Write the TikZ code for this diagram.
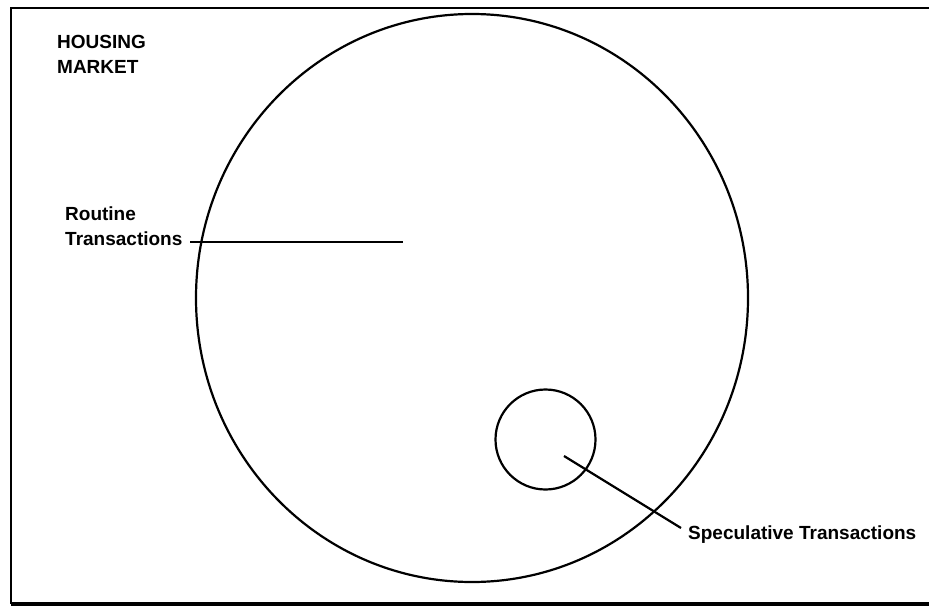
\documentclass[tikz,border=0pt]{standalone}
\usepackage{fontspec}
\setmainfont{Liberation Sans}
\begin{document}
\begin{tikzpicture}[x=1pt, y=-1pt,
  lbl/.style={inner sep=0pt, align=left, font=\bfseries\fontsize{19}{25}\selectfont},
  ring/.style={draw, line width=2.2pt},
  lead/.style={line width=2.2pt}
]
\useasboundingbox (0,0) rectangle (929,610);
% frame
\draw[line width=2.2pt] (929,8) -- (11,8) -- (11,604);
\draw[line width=3.5pt] (11,604) -- (929,604);
% market and its parts
\draw[ring] (472,298) ellipse [x radius=276, y radius=284];
\draw[ring] (545.5,439.5) circle [radius=50];
\node[lbl, anchor=north west] (market) at (57,35) {HOUSING\\MARKET};
\node[lbl, anchor=north west] (routine) at (65,207) {Routine\\Transactions};
\node[lbl, anchor=base west] (spec) at (688,539) {Speculative Transactions};
\coordinate (rstart) at (190,242);
\coordinate (rend) at (403,242);
\coordinate (sstart) at (564,456);
\coordinate (send) at (681,528);
\draw[lead] (rstart) -- (rend);
\draw[lead] (sstart) -- (send);
\end{tikzpicture}
\end{document}
